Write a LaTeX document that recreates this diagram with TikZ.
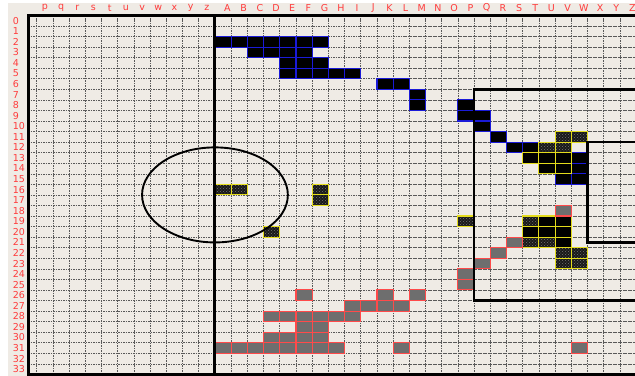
\documentclass[tikz,border=0pt]{standalone}
\usepackage{fontspec}
\setmainfont{DejaVu Sans}
\usetikzlibrary{patterns}
\definecolor{paper}{HTML}{EFEBE5}
\definecolor{cellblue}{HTML}{1A1AD8}
\definecolor{cellyellow}{HTML}{E4DC1C}
\definecolor{cellred}{HTML}{FF4A4A}
\definecolor{cellgray}{HTML}{6E6E6E}
\definecolor{labelred}{HTML}{FF3B3B}
\begin{document}
\begin{tikzpicture}[x=16.2pt, y=-10.56pt,
  gridline/.style={black!65, line width=0.55pt, dash pattern=on 1.6pt off 0.9pt},
  frame/.style={black, line width=3pt},
  zone/.style={black, line width=2.4pt},
  bluecell/.style={fill=black, draw=cellblue, line width=1.1pt},
  yellowcell/.style={fill=black, draw=cellyellow, line width=1.1pt},
  dotcell/.style={preaction={fill=black!90}, pattern=crosshatch dots,
    pattern color=black!55, draw=cellyellow, line width=1.1pt},
  graycell/.style={fill=cellgray, draw=cellred, line width=1.1pt},
  collbl/.style={text=labelred, font=\fontsize{9.5}{10}\selectfont, inner sep=0pt},
  rowlbl/.style={collbl, anchor=west}]
\def\xl{-11.54}
\def\xr{25.93}
\useasboundingbox (-13.27,-1.458) rectangle (\xr,34.15);
\fill[white] (-13.27,-1.458) rectangle (\xr,34.15);
\fill[paper] (-12.78,-1.174) rectangle (\xr,34.15);
\clip (-13.27,-1.458) rectangle (\xr,34.15);
\foreach \x in {-11,...,25}
  \draw[gridline] (\x,0) -- (\x,34);
\foreach \y in {1,...,33}
  \draw[gridline] (\xl,\y) -- (26,\y);
\foreach \l [count=\i from -11] in {p,q,r,s,t,u,v,w,x,y,z}
  \node[collbl] at (\i+0.5,-0.7) {\l};
\foreach \l [count=\i from 0] in {A,B,C,D,E,F,G,H,I,J,K,L,M,N,O,P,Q,R,S,T,U,V,W,X,Y,Z}
  \node[collbl] at (\i+0.77,-0.7) {\l};
\foreach \r in {0,...,33}
  \node[rowlbl] at (-12.49,\r+0.5) {\r};
\foreach \c/\r in {0/2,1/2,2/2,3/2,4/2,5/2,6/2,2/3,3/3,4/3,5/3,4/4,5/4,6/4,
    4/5,5/5,6/5,7/5,8/5,10/6,11/6,12/7,12/8,15/8,15/9,16/9,16/10,17/11,
    18/12,19/12,22/13,22/14,21/15,22/15}
  \path[bluecell] (\c,\r) rectangle ++(1,1);
\foreach \c/\r in {19/13,20/13,21/13,20/14,21/14,20/19,21/19,19/20,20/20,21/20,21/21}
  \path[yellowcell] (\c,\r) rectangle ++(1,1);
\foreach \c/\r in {21/11,22/11,20/12,21/12,0/16,1/16,6/16,6/17,3/20,15/19,
    19/19,19/21,20/21,21/22,22/22,21/23,22/23}
  \path[dotcell] (\c,\r) rectangle ++(1,1);
\foreach \c/\r in {21/18,18/21,17/22,16/23,15/24,15/25,5/26,10/26,12/26,
    8/27,9/27,10/27,11/27,3/28,4/28,5/28,6/28,7/28,8/28,5/29,6/29,
    3/30,4/30,5/30,6/30,0/31,1/31,2/31,3/31,4/31,5/31,6/31,7/31,11/31,22/31}
  \path[graycell] (\c,\r) rectangle ++(1,1);
\draw[frame] (26,0) -- (\xl,0) -- (\xl,34) -- (26,34);
\draw[frame] (0,0) -- (0,34);
\draw[zone] (26.5,7) -- (16,7) -- (16,27) -- (26.5,27);
\draw[zone] (26.5,12) -- (23,12) -- (23,21.5) -- (26.5,21.5);
\draw[black, line width=1.9pt] (0,17) ellipse [x radius=4.5, y radius=4.5];
\end{tikzpicture}
\end{document}
